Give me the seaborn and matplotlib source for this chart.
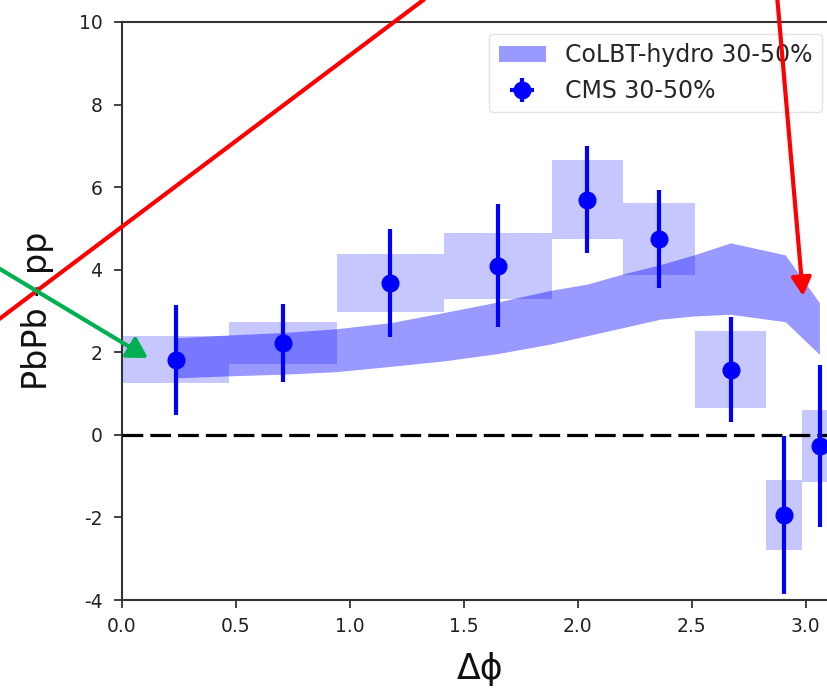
import numpy as np
import matplotlib
matplotlib.use("Agg")
import matplotlib.pyplot as plt
from matplotlib import font_manager as fm
from matplotlib.patches import FancyArrowPatch
from matplotlib.lines import Line2D
import seaborn as sns

# ---------------- data ----------------
bin_edges = [0.0, 0.471, 0.942, 1.414, 1.885, 2.199, 2.513, 2.827, 2.985, 3.142]
dphi = [0.236, 0.707, 1.178, 1.649, 2.042, 2.356, 2.670, 2.906, 3.063]
cms_y = [1.82, 2.22, 3.68, 4.10, 5.70, 4.74, 1.58, -1.94, -0.27]
cms_stat = [1.33, 0.95, 1.30, 1.48, 1.30, 1.18, 1.28, 1.92, 1.97]
cms_sys = [0.57, 0.51, 0.70, 0.80, 0.95, 0.87, 0.93, 0.85, 0.86]

theo_x = [0.236, 0.47, 0.71, 0.94, 1.18, 1.41, 1.65, 1.88, 2.04, 2.20, 2.36, 2.51, 2.67, 2.91, 3.06]
theo_hi = [2.35, 2.42, 2.48, 2.57, 2.72, 2.96, 3.22, 3.50, 3.65, 3.90, 4.12, 4.36, 4.65, 4.36, 3.20]
theo_lo = [1.38, 1.43, 1.47, 1.53, 1.66, 1.79, 1.97, 2.20, 2.40, 2.60, 2.80, 2.88, 2.92, 2.74, 1.95]

x_ticks = [0.0, 0.5, 1.0, 1.5, 2.0, 2.5, 3.0]
y_ticks = [-4, -2, 0, 2, 4, 6, 8, 10]
band_label = "CoLBT-hydro 30-50%"
cms_label = "CMS 30-50%"

# ---------------- style ----------------
sns.set_theme(style="ticks")
plt.rcParams["font.family"] = ["DejaVu Sans"]


def pick_font(names):
    for n in names:
        try:
            fm.findfont(fm.FontProperties(family=n), fallback_to_default=False)
            return n
        except Exception:
            pass
    return "DejaVu Sans"


tick_font = pick_font(["Liberation Sans Narrow", "DejaVu Sans Condensed", "DejaVu Sans"])
tick_size = {"Liberation Sans Narrow": 16, "DejaVu Sans Condensed": 14}.get(tick_font, 13.5)

W, H = 827, 689
fig = plt.figure(figsize=(W / 100, H / 100), dpi=100)
# axes extends past the right edge, as in the cropped reference
left_px, right_px, top_px, bot_px = 122, 838, 22, 600
ax = fig.add_axes([left_px / W, 1 - bot_px / H, (right_px - left_px) / W, (bot_px - top_px) / H])

# systematic boxes
edges = np.array(bin_edges)
widths = np.diff(edges)
ys = np.array(cms_y)
sy = np.array(cms_sys)
ax.bar(edges[:-1], 2 * sy, bottom=ys - sy, width=widths, align="edge",
       color="blue", alpha=0.22, linewidth=0, zorder=1)

# theory band
ax.fill_between(theo_x, theo_lo, theo_hi, color="blue", alpha=0.4, linewidth=0,
                label=band_label, zorder=2)

# zero line
ax.axhline(0, color="black", lw=2.3, ls=(0, (6.5, 2.2)), zorder=3)

# data points
ax.errorbar(dphi, cms_y, yerr=cms_stat, xerr=np.zeros(len(dphi)), fmt="o",
            color="blue", ms=12, elinewidth=3, capsize=0, label=cms_label, zorder=4)

ax.set_xlim(0, np.pi)
ax.set_ylim(-4, 10)
ax.set_xticks(x_ticks)
ax.set_yticks(y_ticks)
ax.set_xticklabels([f"{v:.1f}" for v in x_ticks])
ax.set_yticklabels([str(v) for v in y_ticks])
for lab in ax.get_xticklabels() + ax.get_yticklabels():
    lab.set_fontfamily(tick_font)
    lab.set_fontsize(tick_size)
    lab.set_color("#222222")
ax.tick_params(axis="both", direction="out", length=6, width=1.3, color="#333333")
ax.tick_params(axis="x", pad=6)
ax.tick_params(axis="y", pad=8)
for s in ax.spines.values():
    s.set_linewidth(1.5)
    s.set_color("#333333")
ax.set_facecolor("white")

ax.set_xlabel("\u0394\u03d5", fontsize=25, labelpad=12, color="#111111")
ax.set_ylabel("PbPb - pp", fontsize=24, labelpad=18, color="#111111")

leg = ax.legend(loc="upper right", bbox_to_anchor=(0.9937, 1.0), fontsize=17,
                frameon=True, framealpha=0.8, edgecolor="#dddddd", fancybox=True)

# ---------------- overlay arrows (figure pixel coordinates) ----------------
def fp(x, y):
    return (x / W, 1 - y / H)

fig.add_artist(Line2D([fp(-10, 326)[0], fp(430, -5)[0]], [fp(-10, 326)[1], fp(430, -5)[1]],
                      transform=fig.transFigure, color="#ff0000", lw=3, solid_capstyle="butt",
                      zorder=10))
fig.add_artist(FancyArrowPatch(fp(777, -5), fp(803, 296), transform=fig.transFigure,
                               arrowstyle="-|>,head_length=0.55,head_width=0.3",
                               mutation_scale=20, color="#ff0000", lw=3, zorder=10,
                               shrinkA=0, shrinkB=0))
fig.add_artist(FancyArrowPatch(fp(-5, 266), fp(148, 358), transform=fig.transFigure,
                               arrowstyle="-|>,head_length=0.6,head_width=0.35",
                               mutation_scale=20, color="#00b050", lw=3, zorder=10,
                               shrinkA=0, shrinkB=0))

fig.savefig("out.png", dpi=100)
